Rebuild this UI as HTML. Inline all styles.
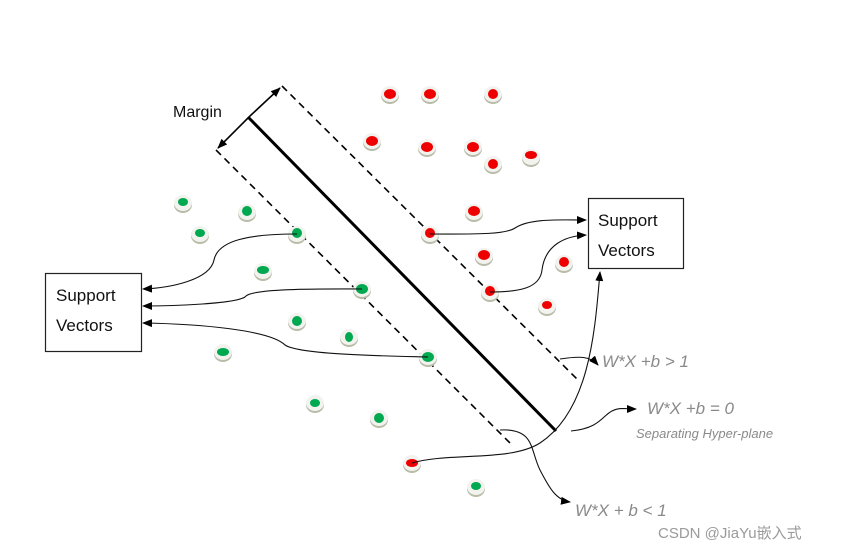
<!DOCTYPE html>
<html><head><meta charset="utf-8"><style>
html,body{margin:0;padding:0;background:#fff;}
svg{display:block;}
</style></head><body>
<svg width="850" height="552" viewBox="0 0 850 552" xmlns="http://www.w3.org/2000/svg">
<defs>
<marker id="a" markerWidth="10" markerHeight="8" refX="9" refY="4" orient="auto" markerUnits="userSpaceOnUse"><path d="M0,0 L10,4 L0,8 z" fill="#000"/></marker>
<g id="dot"><ellipse cx="0" cy="2" rx="9" ry="8" fill="#b8bca8"/><ellipse cx="0" cy="0" rx="9" ry="8" fill="#f2f2ee"/></g>
</defs>
<rect width="850" height="552" fill="#fff"/>
<!-- lines -->
<line x1="282" y1="86" x2="580" y2="382" stroke="#000" stroke-width="1.6" stroke-dasharray="7,5"/>
<line x1="216" y1="150" x2="510" y2="443" stroke="#000" stroke-width="1.6" stroke-dasharray="7,5"/>
<line x1="248" y1="117" x2="556" y2="431" stroke="#000" stroke-width="3"/>
<line x1="250" y1="116" x2="280" y2="88" stroke="#000" stroke-width="1.6" marker-end="url(#a)"/>
<line x1="250" y1="116" x2="218" y2="148" stroke="#000" stroke-width="1.6" marker-end="url(#a)"/>
<text x="173" y="117" font-family="Liberation Sans, sans-serif" font-size="16" fill="#111">Margin</text>
<!-- dots -->
<g>
<use href="#dot" x="390" y="94"/><use href="#dot" x="430" y="94"/><use href="#dot" x="493" y="94"/>
<use href="#dot" x="372" y="141"/><use href="#dot" x="427" y="147"/><use href="#dot" x="473" y="147"/>
<use href="#dot" x="493" y="164"/><use href="#dot" x="531" y="157"/><use href="#dot" x="474" y="212"/>
<use href="#dot" x="430" y="234"/><use href="#dot" x="484" y="256"/><use href="#dot" x="564" y="263"/>
<use href="#dot" x="490" y="292"/><use href="#dot" x="547" y="306"/><use href="#dot" x="412" y="463"/>
<use href="#dot" x="183" y="203"/><use href="#dot" x="247" y="212"/><use href="#dot" x="200" y="234"/>
<use href="#dot" x="297" y="234"/><use href="#dot" x="263" y="271"/><use href="#dot" x="362" y="289"/>
<use href="#dot" x="297" y="321"/><use href="#dot" x="349" y="337"/><use href="#dot" x="223" y="352"/>
<use href="#dot" x="428" y="357"/><use href="#dot" x="315" y="403"/><use href="#dot" x="379" y="418"/>
<use href="#dot" x="476" y="487"/>
</g>
<g fill="#ee0000">
<ellipse cx="390" cy="94" rx="6" ry="5"/><ellipse cx="430" cy="94" rx="6" ry="5"/><ellipse cx="493" cy="94" rx="5" ry="5"/>
<ellipse cx="372" cy="141" rx="6" ry="5"/><ellipse cx="427" cy="147" rx="6" ry="5"/><ellipse cx="473" cy="147" rx="6" ry="5"/>
<ellipse cx="493" cy="164" rx="5" ry="5"/><ellipse cx="531" cy="155" rx="6" ry="4"/><ellipse cx="474" cy="211" rx="6" ry="5"/>
<ellipse cx="430" cy="233" rx="5" ry="5"/><ellipse cx="484" cy="255" rx="6" ry="5"/><ellipse cx="564" cy="262" rx="5" ry="5"/>
<ellipse cx="490" cy="291" rx="5" ry="5"/><ellipse cx="547" cy="305" rx="5" ry="4"/><ellipse cx="412" cy="463" rx="6" ry="4"/>
</g>
<g fill="#00a84f">
<ellipse cx="183" cy="202" rx="5" ry="4"/><ellipse cx="247" cy="211" rx="5" ry="5"/><ellipse cx="200" cy="233" rx="5" ry="4"/>
<ellipse cx="297" cy="233" rx="5" ry="5"/><ellipse cx="263" cy="270" rx="6" ry="4"/><ellipse cx="362" cy="289" rx="6" ry="5"/>
<ellipse cx="297" cy="321" rx="5" ry="5"/><ellipse cx="349" cy="337" rx="4" ry="5"/><ellipse cx="223" cy="352" rx="6" ry="4"/>
<ellipse cx="428" cy="357" rx="6" ry="5"/><ellipse cx="315" cy="403" rx="5" ry="4"/><ellipse cx="379" cy="418" rx="5" ry="5"/>
<ellipse cx="476" cy="486" rx="5" ry="4"/>
</g>
<!-- boxes -->
<rect x="45.5" y="273.5" width="96" height="78" fill="#fff" stroke="#222" stroke-width="1.2"/>
<text x="56" y="301" font-family="Liberation Sans, sans-serif" font-size="17" fill="#111">Support</text>
<text x="56" y="331" font-family="Liberation Sans, sans-serif" font-size="17" fill="#111">Vectors</text>
<rect x="588.5" y="198.5" width="95" height="70" fill="#fff" stroke="#222" stroke-width="1.2"/>
<text x="598" y="226" font-family="Liberation Sans, sans-serif" font-size="17" fill="#111">Support</text>
<text x="598" y="256" font-family="Liberation Sans, sans-serif" font-size="17" fill="#111">Vectors</text>
<!-- connectors -->
<g fill="none" stroke="#111" stroke-width="1.1">
<path d="M297,234 C250,234 218,240 214,260 C210,280 170,288 143,289" marker-end="url(#a)"/>
<path d="M362,289 C330,289 255,288 246,296 C240,304 170,306 143,306" marker-end="url(#a)"/>
<path d="M428,357 C390,356 300,355 285,345 C270,330 200,324 143,323" marker-end="url(#a)"/>
<path d="M430,234 C470,234 505,235 515,228 C530,218 560,220 586,220" marker-end="url(#a)"/>
<path d="M490,292 C520,292 540,288 542,270 C545,245 565,236 586,235" marker-end="url(#a)"/>
<path d="M412,463 C450,452 510,462 540,443 C590,410 595,330 600,272" marker-end="url(#a)"/>
<path d="M560,359 C580,356 590,356 598,365" marker-end="url(#a)"/>
<path d="M571,431 C600,428 602,416 612,411 C620,407 628,409 636,409" marker-end="url(#a)"/>
<path d="M500,430 C535,428 530,450 540,470 C548,485 555,500 570,502" marker-end="url(#a)"/>
</g>
<!-- labels -->
<g font-family="Liberation Sans, sans-serif" font-style="italic" fill="#8a8a8a">
<text x="602" y="367" font-size="17">W*X +b &gt; 1</text>
<text x="647" y="414" font-size="17">W*X +b = 0</text>
<text x="636" y="438" font-size="13">Separating Hyper-plane</text>
<text x="575" y="516" font-size="17">W*X + b &lt; 1</text>
</g>
<text x="658" y="538" font-family="Liberation Sans, 'Noto Sans CJK SC', sans-serif" font-size="15" fill="#9a9a9a">CSDN @JiaYu嵌入式</text>
</svg>
</body></html>
